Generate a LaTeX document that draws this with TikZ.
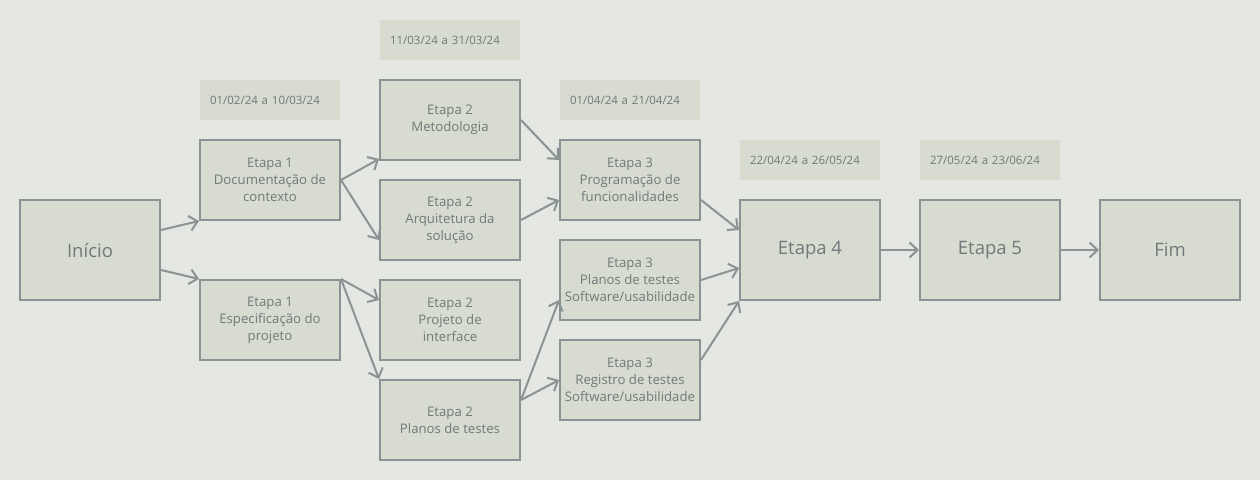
\documentclass[tikz,border=0pt]{standalone}
\usepackage{fontspec}
\setmainfont{Open Sans}
\usetikzlibrary{arrows.meta}
\definecolor{bgc}{RGB}{229,231,226}
\definecolor{boxfill}{RGB}{216,219,207}
\definecolor{edgec}{RGB}{138,148,148}
\definecolor{txtc}{RGB}{112,122,122}
\tikzset{
  box/.style={draw=edgec, line width=2pt, fill=boxfill, text=txtc, align=center,
    minimum width=140pt, minimum height=80pt, inner sep=0pt, font=\fontsize{13.2}{17}\selectfont},
  bigbox/.style={box, minimum height=100pt, font=\fontsize{18.5}{22}\selectfont},
  datebox/.style={fill=boxfill, text=txtc, minimum width=140pt, minimum height=40pt,
    inner sep=0pt, text width=120pt, align=left, font=\fontsize{11.5}{13}\selectfont},
  conn/.style={draw=edgec, line width=2pt, -{Straight Barb[length=8pt,width=15pt,line width=2pt]}}
}
\begin{document}
\begin{tikzpicture}[x=1pt,y=-1pt]
\fill[bgc] (0,0) rectangle (1260,480);
\useasboundingbox (0,0) rectangle (1260,480);
% dates
\node[datebox] (d1) at (270,100) {01/02/24 a 10/03/24};
\node[datebox] (d2) at (450,40) {11/03/24 a 31/03/24};
\node[datebox] (d3) at (630,100) {01/04/24 a 21/04/24};
\node[datebox] (d4) at (810,160) {22/04/24 a 26/05/24};
\node[datebox] (d5) at (990,160) {27/05/24 a 23/06/24};
% boxes
\node[bigbox] (ini) at (90,250) {Início};
\node[box] (doc) at (270,180) {Etapa 1\\Documentação de\\contexto};
\node[box] (spec) at (270,320) {Etapa 1\\Especificação do\\projeto};
\node[box] (met) at (450,120) {Etapa 2\\Metodologia};
\node[box] (arq) at (450,220) {Etapa 2\\Arquitetura da\\solução};
\node[box] (proj) at (450,320) {Etapa 2\\Projeto de\\interface};
\node[box] (pl2) at (450,420) {Etapa 2\\Planos de testes};
\node[box] (prog) at (630,180) {Etapa 3\\Programação de\\funcionalidades};
\node[box] (pl3) at (630,280) {Etapa 3\\Planos de testes\\Software/usabilidade};
\node[box] (reg) at (630,380) {Etapa 3\\Registro de testes\\Software/usabilidade};
\node[bigbox] (e4) at (810,250) {Etapa 4};
\node[bigbox] (e5) at (990,250) {Etapa 5};
\node[bigbox] (fim) at (1170,250) {Fim};
% connectors
\draw[conn] ([yshift=20pt]ini.east) -- (doc.south west);
\draw[conn] ([yshift=-20pt]ini.east) -- (spec.north west);
\draw[conn] (doc.east) -- ([yshift=2pt]met.south west);
\draw[conn] (doc.east) -- ([yshift=-20pt]arq.west);
\draw[conn] (spec.north east) -- ([yshift=20pt]proj.west);
\draw[conn] (spec.north east) -- (pl2.north west);
\draw[conn] (met.east) -- ([yshift=20pt]prog.west);
\draw[conn] (arq.east) -- ([yshift=-20pt]prog.west);
\draw[conn] ([yshift=20pt]pl2.east) -- ([yshift=-20pt]pl3.west);
\draw[conn] ([yshift=20pt]pl2.east) -- (reg.west);
\draw[conn] ([yshift=-20pt]prog.east) -- ([yshift=20pt]e4.west);
\draw[conn] (pl3.east) -- ([yshift=-18pt]e4.west);
\draw[conn] ([yshift=20pt]reg.east) -- (e4.south west);
\draw[conn] (e4.east) -- (e5.west);
\draw[conn] (e5.east) -- (fim.west);
\end{tikzpicture}
\end{document}
